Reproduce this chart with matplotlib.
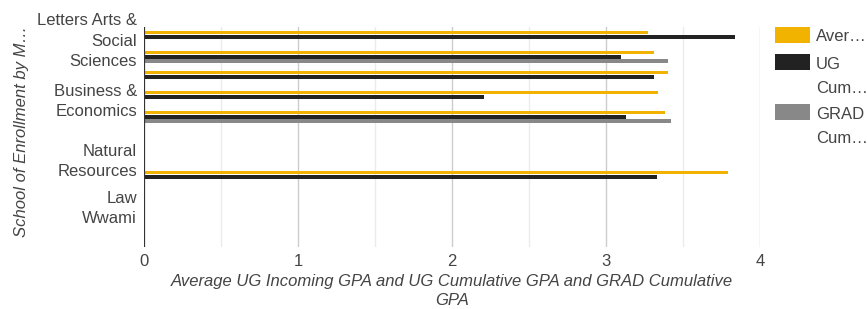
import numpy as np
import matplotlib
matplotlib.use("Agg")
import matplotlib.pyplot as plt
from matplotlib.patches import Rectangle

plt.rcParams['font.family'] = ['Liberation Sans', 'DejaVu Sans']

# ---- data ----
categories = ["Letters Arts &\nSocial\nSciences", "", "", "Business &\nEconomics", "", "",
              "Natural\nResources", "", "Law", "Wwami", ""]
series_names = ["Average UG Incoming GPA", "UG Cumulative GPA", "GRAD Cumulative GPA"]
legend_labels = ["Aver\u2026", "UG\nCum\u2026", "GRAD\nCum\u2026"]
nan = np.nan
ug_incoming = [3.27, 3.31, 3.40, 3.34, 3.38, nan, nan, 3.79, nan, nan, nan]
ug_cumulative = [3.84, 3.10, 3.31, 2.21, 3.13, nan, nan, 3.33, nan, nan, nan]
grad_cumulative = [nan, 3.40, nan, nan, 3.42, nan, nan, nan, nan, nan, nan]
colors = ["#F1B300", "#222222", "#888888"]
x_ticks = [0, 1, 2, 3, 4]

W, H = 867, 309
FS = 12
TXT = "#444444"
fig = plt.figure(figsize=(W / 100, H / 100), dpi=100)
ax = fig.add_axes([144 / W, 1 - 247 / H, (760 - 144) / W, (247 - 27) / H])

y = np.arange(len(categories))
offsets = [-0.225, 0.0, 0.205]
bar_h = 0.19
for vals, off, c in zip([ug_incoming, ug_cumulative, grad_cumulative], offsets, colors):
    v = np.array(vals, dtype=float)
    m = ~np.isnan(v)
    ax.barh(y[m] + off, v[m], height=bar_h, color=c, zorder=3, linewidth=0)

ax.set_xlim(0, 4)
ax.set_ylim(len(categories) - 0.5, -0.5)

# gridlines
for gx in np.arange(0.5, 4.01, 0.5):
    major = abs(gx - round(gx)) < 1e-9
    ax.axvline(gx, color="#cccccc" if major else "#ebebeb", lw=1, zorder=1)
ax.axvline(0, color="#333333", lw=1.6, zorder=4)

for s in ax.spines.values():
    s.set_visible(False)

ax.set_xticks(x_ticks)
ax.set_xticklabels([str(t) for t in x_ticks], fontsize=FS, color=TXT)
ax.tick_params(axis="x", length=0, pad=5)
ax.set_yticks(y)
ax.set_yticklabels(categories, fontsize=FS, color=TXT, linespacing=1.45)
ax.tick_params(axis="y", length=0, pad=5)

fig.text(452 / W, 1 - 291 / H,
         "Average UG Incoming GPA and UG Cumulative GPA and GRAD Cumulative\nGPA",
         ha="center", va="center", fontsize=FS, style="italic", color=TXT,
         linespacing=1.3)
fig.text(22 / W, 1 - 131 / H, "School of Enrollment by M\u2026", rotation=90,
         ha="center", va="center", fontsize=FS, style="italic", color=TXT)

# legend
sw_tops = [27, 54, 104]
line_y = [[35], [63, 87], [113, 137]]
for top, ys, c, lab in zip(sw_tops, line_y, colors, legend_labels):
    fig.add_artist(Rectangle((775 / W, 1 - (top + 16) / H), 35 / W, 16 / H,
                             transform=fig.transFigure, facecolor=c, edgecolor="none"))
    for ty, part in zip(ys, lab.split("\n")):
        fig.text(816 / W, 1 - ty / H, part, ha="left", va="center_baseline",
                 fontsize=FS, color=TXT)

fig.savefig("out.png", dpi=100)
